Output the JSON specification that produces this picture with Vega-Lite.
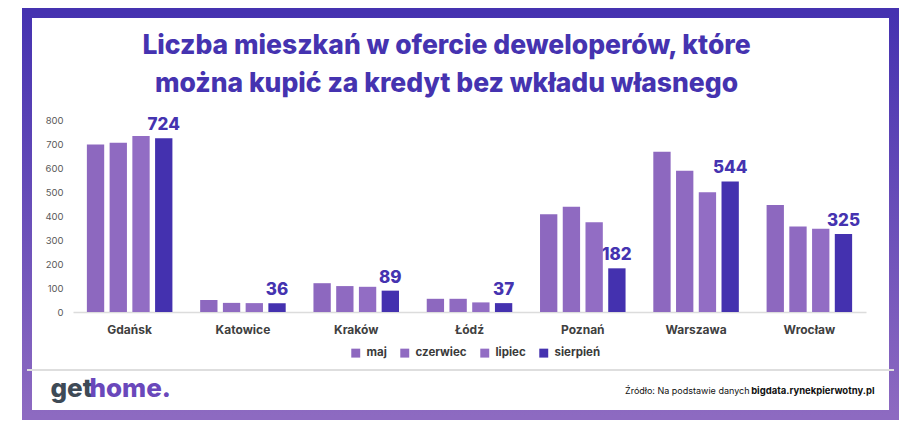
{
  "$schema": "https://vega.github.io/schema/vega-lite/v6.json",
  "autosize": {"type": "none"},
  "width": 867,
  "height": 402,
  "padding": {"left": 27, "top": 13, "right": 25, "bottom": 25},
  "background": "white",
  "title": {
    "text": ["Liczba mieszkań w ofercie deweloperów, które", "można kupić za kredyt bez wkładu własnego"],
    "orient": "top",
    "anchor": "middle",
    "frame": "group",
    "offset": -84.5,
    "baseline": "top",
    "dx": -14,
    "font": "Inter",
    "fontSize": 26.5,
    "fontWeight": 800,
    "lineHeight": 38,
    "color": "#4533b0"
  },
  "data": {
    "values": [
      {"city": "Gdańsk", "month": "maj", "value": 698},
      {"city": "Gdańsk", "month": "czerwiec", "value": 705},
      {"city": "Gdańsk", "month": "lipiec", "value": 733},
      {"city": "Gdańsk", "month": "sierpień", "value": 724},
      {"city": "Katowice", "month": "maj", "value": 50},
      {"city": "Katowice", "month": "czerwiec", "value": 38},
      {"city": "Katowice", "month": "lipiec", "value": 37},
      {"city": "Katowice", "month": "sierpień", "value": 36},
      {"city": "Kraków", "month": "maj", "value": 120},
      {"city": "Kraków", "month": "czerwiec", "value": 108},
      {"city": "Kraków", "month": "lipiec", "value": 105},
      {"city": "Kraków", "month": "sierpień", "value": 89},
      {"city": "Łódź", "month": "maj", "value": 55},
      {"city": "Łódź", "month": "czerwiec", "value": 55},
      {"city": "Łódź", "month": "lipiec", "value": 40},
      {"city": "Łódź", "month": "sierpień", "value": 37},
      {"city": "Poznań", "month": "maj", "value": 407},
      {"city": "Poznań", "month": "czerwiec", "value": 439},
      {"city": "Poznań", "month": "lipiec", "value": 374},
      {"city": "Poznań", "month": "sierpień", "value": 182},
      {"city": "Warszawa", "month": "maj", "value": 668},
      {"city": "Warszawa", "month": "czerwiec", "value": 589},
      {"city": "Warszawa", "month": "lipiec", "value": 499},
      {"city": "Warszawa", "month": "sierpień", "value": 544},
      {"city": "Wrocław", "month": "maj", "value": 446},
      {"city": "Wrocław", "month": "czerwiec", "value": 356},
      {"city": "Wrocław", "month": "lipiec", "value": 347},
      {"city": "Wrocław", "month": "sierpień", "value": 325}
    ]
  },
  "resolve": {"axis": {"x": "independent", "y": "independent"}},
  "layer": [
    {
      "mark": {"type": "bar"},
      "encoding": {
        "x": {
          "field": "city", "type": "nominal", "sort": null,
          "scale": {"range": [46, 839], "paddingInner": 0.245, "paddingOuter": 0.1225},
          "axis": {
            "orient": "bottom", "offset": -103, "ticks": false, "tickSize": 0, "labelAngle": 0,
            "labelPadding": 12, "labelFont": "Inter", "labelFontSize": 12, "labelFontWeight": "bold",
            "labelColor": "#404040", "domainColor": "#dcdcdc", "domainWidth": 1.5,
            "title": "Źródło: Na podstawie danych", "titleX": 722, "titleY": 78,
            "titleAlign": "right", "titleBaseline": "middle", "titleFont": "Inter",
            "titleFontSize": 9, "titleFontWeight": "normal", "titleColor": "#111111"
          }
        },
        "xOffset": {
          "field": "month", "type": "nominal", "sort": ["maj", "czerwiec", "lipiec", "sierpień"],
          "scale": {"paddingInner": 0.238, "paddingOuter": 0}
        },
        "y": {
          "field": "value", "type": "quantitative",
          "scale": {"domain": [0, 800], "range": [299, 107], "nice": false, "zero": true},
          "axis": {
            "orient": "left", "offset": -39, "values": [0, 100, 200, 300, 400, 500, 600, 700, 800],
            "grid": false, "domain": false, "ticks": false, "tickSize": 0, "labelPadding": 3,
            "labelFont": "Inter", "labelFontSize": 9.5, "labelColor": "#595959",
            "title": "get", "titleAngle": 0, "titleX": -16, "titleY": 383, "titleAlign": "left",
            "titleBaseline": "alphabetic", "titleFont": "Inter", "titleFontSize": 26,
            "titleFontWeight": 800, "titleColor": "#3e4a56"
          }
        },
        "color": {
          "field": "month", "type": "nominal",
          "scale": {"domain": ["maj", "czerwiec", "lipiec", "sierpień"], "range": ["#8d68bf", "#8f6ac1", "#926dc4", "#4431af"]},
          "legend": {
            "orient": "none", "direction": "horizontal", "legendX": 323, "legendY": 334, "title": null,
            "symbolType": "square", "symbolSize": 80, "symbolStrokeWidth": 0, "labelFont": "Inter",
            "labelFontSize": 11.5, "labelFontWeight": "bold", "labelColor": "#3a3a3a",
            "columnPadding": 12, "labelOffset": 5
          }
        }
      }
    },
    {
      "transform": [{"filter": "datum.month === 'sierpień'"}],
      "mark": {"type": "text", "baseline": "bottom", "dy": -4, "font": "Inter", "fontSize": 17, "fontWeight": 800, "color": "#4533b0"},
      "encoding": {
        "x": {
          "field": "city", "type": "nominal", "sort": null,
          "axis": {
            "orient": "top", "labels": false, "ticks": false, "domain": false, "grid": false,
            "title": "bigdata.rynekpierwotny.pl", "titleX": 847, "titleY": 377, "titleAlign": "right",
            "titleBaseline": "middle", "titleFont": "Inter", "titleFontSize": 9.5, "titleFontWeight": "bold",
            "titleColor": "#111111"
          }
        },
        "xOffset": {"field": "month", "type": "nominal", "sort": ["maj", "czerwiec", "lipiec", "sierpień"]},
        "y": {
          "field": "value", "type": "quantitative",
          "axis": {
            "orient": "right", "labels": false, "ticks": false, "domain": false, "grid": false,
            "title": "home.", "titleAngle": 0, "titleX": -805, "titleY": 383, "titleAlign": "left",
            "titleBaseline": "alphabetic", "titleFont": "Inter", "titleFontSize": 26,
            "titleFontWeight": 800, "titleColor": "#6a48bb"
          }
        },
        "text": {"field": "value", "type": "quantitative"}
      }
    },
    {
      "mark": {"type": "rule", "color": "#dddddd", "strokeWidth": 1.2},
      "encoding": {
        "y": {"datum": -241.7, "type": "quantitative", "axis": null}
      }
    }
  ],
  "config": {
    "view": {
      "stroke": {"gradient": "linear", "x1": 0, "y1": 0, "x2": 0, "y2": 1, "stops": [{"offset": 0, "color": "#4532b0"}, {"offset": 1, "color": "#8d6ac1"}]},
      "strokeWidth": 10,
      "fill": "white"
    }
  }
}
